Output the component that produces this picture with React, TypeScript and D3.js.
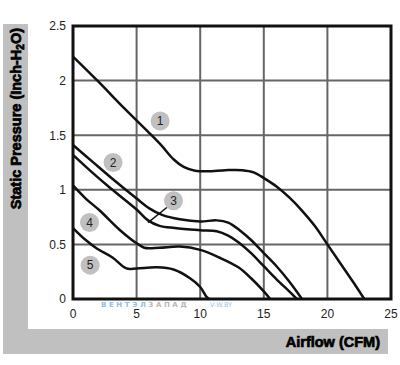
import React, { useEffect, useRef } from "react";
import * as d3 from "d3";

// fan curves: [airflow CFM, pressure inch-H2O]
const curve1: [number, number][] = [
  [0, 2.22], [2, 1.99], [4, 1.75], [6, 1.52], [7, 1.4], [7.9, 1.28], [8.7, 1.21],
  [9.6, 1.175], [10.6, 1.17], [12, 1.18], [13.3, 1.18], [14.2, 1.16], [15.1, 1.1],
  [16, 1.03], [17, 0.93], [18, 0.81], [19, 0.67], [20, 0.5], [21, 0.33],
  [22, 0.16], [22.9, 0],
];
const curve2: [number, number][] = [
  [0, 1.41], [1.5, 1.26], [3, 1.11], [5, 0.92], [6, 0.83], [7, 0.77], [8.4, 0.73],
  [10, 0.71], [11.3, 0.72], [12.2, 0.7], [13.1, 0.63], [14, 0.54], [15, 0.42],
  [16, 0.3], [17, 0.16], [18, 0],
];
const curve3: [number, number][] = [
  [0, 1.32], [1.5, 1.16], [3, 1.01], [5, 0.82], [5.9, 0.72], [6.8, 0.67], [8, 0.65],
  [10, 0.63], [11.3, 0.62], [12.2, 0.58], [13, 0.52], [14, 0.42], [15, 0.3],
  [16, 0.18], [17, 0.07], [17.6, 0],
];
const curve4: [number, number][] = [
  [0, 1.04], [1, 0.92], [2.1, 0.81], [3.7, 0.63], [5, 0.51], [5.6, 0.47], [6.8, 0.47],
  [8.4, 0.48], [10, 0.45], [11.5, 0.38], [13, 0.29], [14, 0.19], [15, 0.07], [15.5, 0],
];
const curve5: [number, number][] = [
  [0, 0.65], [1, 0.54], [1.9, 0.46], [3.1, 0.38], [4.2, 0.28], [5, 0.28], [6.6, 0.29],
  [7.9, 0.27], [9.2, 0.19], [10, 0.11], [10.5, 0.02], [10.7, 0],
];
const curves = [curve1, curve2, curve3, curve4, curve5];

// numbered markers: [label, x, y] in data units
const markerLabels = ["1", "2", "3", "4", "5"];
const markerPos: [number, number][] = [
  [6.85, 1.63], [3.15, 1.25], [7.9, 0.9], [1.3, 0.7], [1.35, 0.31],
];
// leader from marker 3 to its curve
const leader3: [number, number][] = [[7.4, 0.84], [5.9, 0.7]];

const xTicks = [0, 5, 10, 15, 20, 25];
const yTicks = [0, 0.5, 1, 1.5, 2, 2.5];

const App = () => {
  const svgRef = useRef<SVGSVGElement>(null);

  useEffect(() => {
    document.body.style.margin = "0";
    if (!svgRef.current) return;
    const svg = d3.select(svgRef.current);
    svg.selectAll("*").remove();

    const left = 73, right = 391, top = 26, bottom = 299;
    const x = d3.scaleLinear().domain([0, 25]).range([left, right]);
    const y = d3.scaleLinear().domain([0, 2.5]).range([bottom, top]);

    // gray panels
    svg.append("rect").attr("x", 3).attr("y", 24).attr("width", 25).attr("height", 330).attr("fill", "#c0c0c0");
    svg.append("rect").attr("x", 3).attr("y", 329).attr("width", 385).attr("height", 25).attr("fill", "#c0c0c0");

    // grid
    xTicks.slice(1, -1).forEach((t) => {
      svg.append("line").attr("x1", x(t)).attr("x2", x(t)).attr("y1", top).attr("y2", bottom)
        .attr("stroke", "#666").attr("stroke-width", 2);
    });
    yTicks.slice(1, -1).forEach((t) => {
      svg.append("line").attr("x1", left).attr("x2", right).attr("y1", y(t)).attr("y2", y(t))
        .attr("stroke", "#666").attr("stroke-width", 2);
    });

    // frame
    svg.append("rect").attr("x", left).attr("y", top).attr("width", right - left).attr("height", bottom - top)
      .attr("fill", "none").attr("stroke", "#111").attr("stroke-width", 3);

    // curves
    const line = d3.line<[number, number]>()
      .x((d) => x(d[0]))
      .y((d) => y(d[1]))
      .curve(d3.curveCatmullRom);
    curves.forEach((c) => {
      svg.append("path").attr("d", line(c)).attr("fill", "none")
        .attr("stroke", "#111").attr("stroke-width", 2.5);
    });

    // leader line for marker 3
    svg.append("path").attr("d", d3.line<[number, number]>().x((d) => x(d[0])).y((d) => y(d[1]))(leader3))
      .attr("stroke", "#111").attr("stroke-width", 1.5).attr("fill", "none");

    // markers
    markerLabels.forEach((lab, i) => {
      const [mx, my] = markerPos[i];
      svg.append("circle").attr("cx", x(mx)).attr("cy", y(my)).attr("r", 9.5).attr("fill", "#c0c0c0");
      svg.append("text").attr("x", x(mx)).attr("y", y(my)).attr("dy", "0.36em")
        .attr("text-anchor", "middle").attr("font-family", "Liberation Sans, Arial, sans-serif")
        .attr("font-size", 12).attr("fill", "#222").text(lab);
    });

    // tick labels
    xTicks.forEach((t) => {
      svg.append("text").attr("x", x(t)).attr("y", 318).attr("text-anchor", "middle")
        .attr("font-family", "Liberation Sans, Arial, sans-serif").attr("font-size", 12)
        .attr("fill", "#222").text(t);
    });
    yTicks.forEach((t) => {
      svg.append("text").attr("x", 66).attr("y", y(t)).attr("dy", "0.36em").attr("text-anchor", "end")
        .attr("font-family", "Liberation Sans, Arial, sans-serif").attr("font-size", 12)
        .attr("fill", "#222").text(t);
    });

    // watermark
    const wm = svg.append("text").attr("x", 101).attr("y", 306.5)
      .attr("font-family", "DejaVu Sans, sans-serif").attr("font-size", 7).attr("font-weight", "bold")
      .attr("letter-spacing", 2.6);
    wm.append("tspan").attr("fill", "#8cc0ea").text("ВЕНТЭЛ");
    wm.append("tspan").attr("fill", "#b8b8b8").text("ЗАПАД");
    svg.append("text").attr("x", 210).attr("y", 306.5).attr("font-family", "DejaVu Sans, sans-serif")
      .attr("font-size", 6.5).attr("fill", "#9cc4e4").text("V-W.BY");

    // axis titles
    svg.append("text").attr("x", 380).attr("y", 347).attr("text-anchor", "end")
      .attr("font-family", "Liberation Sans, Arial, sans-serif").attr("font-size", 14.5)
      .attr("font-weight", "bold").attr("fill", "#000").attr("stroke", "#000").attr("stroke-width", 0.7)
      .text("Airflow (CFM)");

    const yt = svg.append("text").attr("transform", "translate(21,28) rotate(-90)").attr("text-anchor", "end")
      .attr("font-family", "Liberation Sans, Arial, sans-serif").attr("font-size", 14.5)
      .attr("font-weight", "bold").attr("fill", "#000").attr("stroke", "#000").attr("stroke-width", 0.7);
    yt.append("tspan").text("Static Pressure (Inch-H");
    yt.append("tspan").attr("font-size", 10).attr("dy", 3).text("2");
    yt.append("tspan").attr("dy", -3).text("O)");
  }, []);

  return <svg ref={svgRef} width={400} height={365} style={{ display: "block" }} />;
};

export default App;
